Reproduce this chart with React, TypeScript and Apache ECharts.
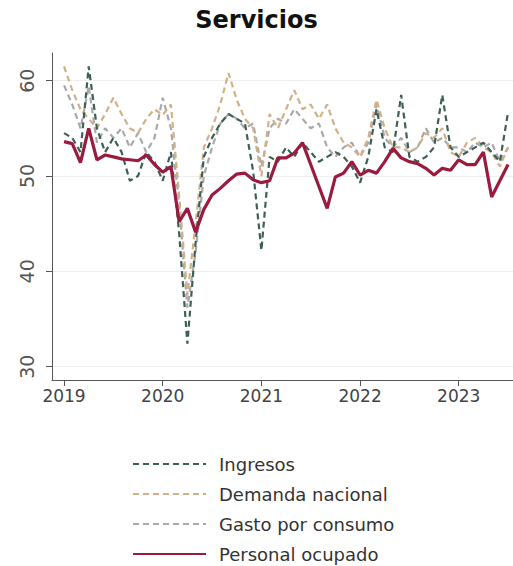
import React, { useEffect, useRef } from "react";
import * as echarts from "echarts";

const startYear = 2019;
const yearTicks = [2019, 2020, 2021, 2022, 2023];
const yTicks = [30, 40, 50, 60];

const ingresos = [
  54.5, 54, 52.5, 61.5, 55, 52.5, 54, 52.5, 49.5, 50, 52.5, 51.5,
  49.5, 52.5, 44, 32.4, 43, 52, 54, 55.5, 56.5, 56, 55.5, 50.5,
  42.2, 52, 51.5, 53, 52, 53.5, 52.5, 51.5, 52, 52.5, 52, 51,
  49.3, 52, 57, 53, 52.5, 58.5, 52, 51.5, 52, 53, 58.5, 53,
  52, 52.5, 53, 53.5, 52.5, 51.5, 56.7,
];
const demandaNacional = [
  61.5, 59, 57, 56, 55, 56.5, 58.2, 56.5, 55, 54.5, 56, 57,
  56.4, 57.5, 48, 37.5, 45, 53, 55, 57.5, 60.8, 58, 56, 55,
  50, 56.5, 55, 57, 59, 57, 57.5, 56, 57.5, 55, 53.5, 53,
  52, 54, 58, 55, 53, 53, 52.5, 53, 54.5, 54, 55, 52.5,
  52, 53.5, 54, 53, 52.5, 51, 53,
];
const gastoConsumo = [
  59.5, 57.5, 55, 59.4, 53.5, 55, 54, 55, 53, 54.5, 52.5, 54,
  58.2, 55, 47, 36.2, 42, 50, 53, 55.5, 56.5, 56, 55, 55.5,
  51, 55, 56, 55.5, 57, 56, 55, 55.5, 53, 52, 53, 53.5,
  52, 53.5, 57.5, 54, 53, 54, 52.5, 53, 55, 53.5, 54, 53,
  53, 52.5, 53.5, 53, 53.5, 51.5, 53,
];
const personalOcupado = [
  53.6, 53.4, 51.4, 55.0, 51.7, 52.2, 52.0, 51.8, 51.7, 51.6, 52.2, 51.2,
  50.4, 51.0, 45.2, 46.6, 44.1, 46.5, 48.0, 48.7, 49.5, 50.2, 50.3, 49.6,
  49.3, 49.5, 51.9, 51.9, 52.4, 53.5, 51.2, 48.9, 46.6, 49.9, 50.3, 51.5,
  50.1, 50.6, 50.3, 51.5, 52.9, 51.9, 51.5, 51.3, 50.8, 50.1, 50.8, 50.6,
  51.7, 51.2, 51.2, 52.5, 47.8, 49.5, 51.2,
];

const toPoints = (arr: number[]) =>
  arr.map((v, i) => [startYear + i / 12, v]);

const FONT = "'DejaVu Sans', 'Noto Sans', sans-serif";

export default function App() {
  const ref = useRef<HTMLDivElement>(null);
  useEffect(() => {
    if (!ref.current) return;
    const chart = echarts.init(ref.current, undefined, { renderer: "svg" });
    const dashed = (name: string, data: number[], color: string, z: number) => ({
      name,
      type: "line",
      data: toPoints(data),
      symbol: "none",
      z,
      lineStyle: { color, width: 2.2, type: [6, 4] },
      itemStyle: { color },
    });
    chart.setOption({
      animation: false,
      backgroundColor: "#ffffff",
      title: {
        text: "Servicios",
        left: "center",
        top: 3,
        textStyle: { fontFamily: FONT, fontSize: 24, fontWeight: "bold", color: "#111" },
      },
      grid: { left: 52, right: 0, top: 53, bottom: 186 },
      xAxis: {
        type: "value",
        min: 2018.878,
        max: 2023.55,
        axisLine: { show: true, lineStyle: { color: "#555", width: 1 } },
        axisTick: { show: true, customValues: yearTicks, length: 6, lineStyle: { color: "#555" } },
        axisLabel: {
          customValues: yearTicks,
          formatter: (v: number) => String(Math.round(v)),
          fontFamily: FONT,
          fontSize: 17,
          color: "#444",
          margin: 7,
        },
        splitLine: { show: false },
      },
      yAxis: {
        type: "value",
        min: 28.6,
        max: 62.9,
        axisLine: { show: true, lineStyle: { color: "#555", width: 1 } },
        axisTick: { show: true, customValues: yTicks, length: 6, lineStyle: { color: "#555" } },
        axisLabel: {
          customValues: yTicks,
          rotate: 90,
          fontFamily: FONT,
          fontSize: 19,
          color: "#555",
          margin: 16,
        },
        splitLine: { show: true, lineStyle: { color: "#eeeeee", width: 1 } },
      },
      legend: {
        orient: "vertical",
        left: 132,
        top: 455,
        height: 110,
        padding: 0,
        itemWidth: 73,
        itemHeight: 14,
        itemGap: 12,
        itemStyle: { opacity: 0 },
        textStyle: {
          fontFamily: FONT,
          fontSize: 18,
          lineHeight: 16,
          color: "#333",
          padding: [0, 0, 0, 8],
        },
        data: ["Ingresos", "Demanda nacional", "Gasto por consumo", "Personal ocupado"],
      },
      series: [
        dashed("Ingresos", ingresos, "#3e5f56", 4),
        dashed("Demanda nacional", demandaNacional, "#d2b088", 3),
        dashed("Gasto por consumo", gastoConsumo, "#a9a9a9", 2),
        {
          name: "Personal ocupado",
          type: "line",
          data: toPoints(personalOcupado),
          symbol: "none",
          z: 5,
          lineStyle: { color: "#9b1b3f", width: 3.2 },
          itemStyle: { color: "#9b1b3f" },
        },
      ],
    });
    return () => chart.dispose();
  }, []);
  return (
    <div
      ref={ref}
      style={{ position: "fixed", left: 0, top: 0, width: 513, height: 566 }}
    />
  );
}
